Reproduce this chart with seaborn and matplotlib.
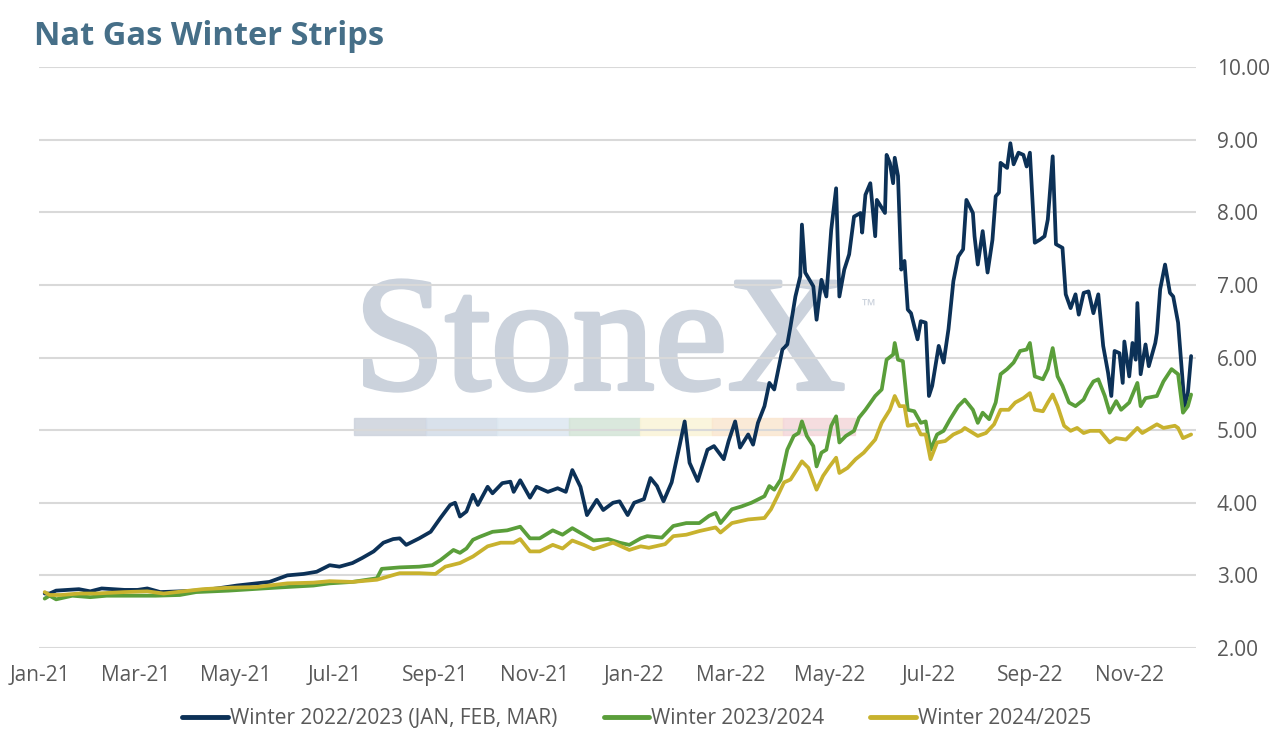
import pandas as pd
import matplotlib
matplotlib.use("Agg")
import matplotlib.pyplot as plt
import matplotlib.dates as mdates
import matplotlib.patheffects as pe
from matplotlib.lines import Line2D
from matplotlib.patches import Rectangle
import seaborn as sns

# -------------------------------
# Data
# -------------------------------
w23_dates = [
    "2021-01-04", "2021-01-07", "2021-01-11", "2021-01-25", "2021-02-01", "2021-02-08", "2021-02-22",
    "2021-03-02", "2021-03-08", "2021-03-16", "2021-03-28", "2021-04-07", "2021-04-20", "2021-05-02",
    "2021-05-14", "2021-05-22", "2021-06-02", "2021-06-12", "2021-06-20", "2021-06-28", "2021-07-04",
    "2021-07-12", "2021-07-18", "2021-07-25", "2021-07-31", "2021-08-06", "2021-08-10", "2021-08-14",
    "2021-08-22", "2021-08-29", "2021-09-04", "2021-09-10", "2021-09-13", "2021-09-16", "2021-09-20",
    "2021-09-24", "2021-09-27", "2021-10-03", "2021-10-06", "2021-10-12", "2021-10-17", "2021-10-19",
    "2021-10-23", "2021-10-29", "2021-11-02", "2021-11-09", "2021-11-15", "2021-11-20", "2021-11-24",
    "2021-11-29", "2021-12-03", "2021-12-09", "2021-12-13", "2021-12-19", "2021-12-23", "2021-12-28",
    "2022-01-01", "2022-01-07", "2022-01-11", "2022-01-15", "2022-01-19", "2022-01-24", "2022-01-29",
    "2022-02-01", "2022-02-04", "2022-02-09", "2022-02-15", "2022-02-19", "2022-02-25", "2022-02-28",
    "2022-03-04", "2022-03-07", "2022-03-12", "2022-03-15", "2022-03-18", "2022-03-22", "2022-03-25",
    "2022-03-28", "2022-04-02", "2022-04-05", "2022-04-07", "2022-04-10", "2022-04-13", "2022-04-14",
    "2022-04-16", "2022-04-21", "2022-04-23", "2022-04-26", "2022-04-29", "2022-05-02", "2022-05-05",
    "2022-05-07", "2022-05-10", "2022-05-13", "2022-05-16", "2022-05-20", "2022-05-21", "2022-05-23",
    "2022-05-26", "2022-05-29", "2022-05-30", "2022-06-04", "2022-06-05", "2022-06-07", "2022-06-09",
    "2022-06-10", "2022-06-12", "2022-06-14", "2022-06-16", "2022-06-18", "2022-06-20", "2022-06-24",
    "2022-06-26", "2022-06-29", "2022-07-01", "2022-07-03", "2022-07-07", "2022-07-10", "2022-07-13",
    "2022-07-16", "2022-07-19", "2022-07-22", "2022-07-24", "2022-07-28", "2022-07-29", "2022-07-31",
    "2022-08-03", "2022-08-06", "2022-08-09", "2022-08-11", "2022-08-13", "2022-08-14", "2022-08-18",
    "2022-08-20", "2022-08-22", "2022-08-25", "2022-08-28", "2022-08-30", "2022-09-01", "2022-09-04",
    "2022-09-07", "2022-09-10", "2022-09-12", "2022-09-15", "2022-09-17", "2022-09-21", "2022-09-23",
    "2022-09-26", "2022-09-29", "2022-10-01", "2022-10-04", "2022-10-07", "2022-10-10", "2022-10-13",
    "2022-10-16", "2022-10-19", "2022-10-21", "2022-10-23", "2022-10-26", "2022-10-28", "2022-10-29",
    "2022-11-01", "2022-11-03", "2022-11-05", "2022-11-06", "2022-11-08", "2022-11-11", "2022-11-13",
    "2022-11-17", "2022-11-18", "2022-11-20", "2022-11-23", "2022-11-26", "2022-11-28", "2022-12-01",
    "2022-12-05", "2022-12-07", "2022-12-09",
]
w23_vals = [
    2.75, 2.75, 2.79, 2.81, 2.78, 2.82, 2.80,
    2.80, 2.82, 2.77, 2.78, 2.79, 2.82, 2.86,
    2.89, 2.91, 3.00, 3.02, 3.05, 3.14, 3.12,
    3.17, 3.24, 3.33, 3.45, 3.50, 3.51, 3.42,
    3.51, 3.60, 3.79, 3.97, 4.00, 3.81, 3.88,
    4.11, 3.97, 4.22, 4.13, 4.27, 4.29, 4.15,
    4.31, 4.07, 4.22, 4.15, 4.20, 4.15, 4.45,
    4.22, 3.83, 4.04, 3.90, 4.00, 4.02, 3.83,
    4.00, 4.05, 4.34, 4.23, 4.02, 4.28, 4.80,
    5.12, 4.55, 4.30, 4.73, 4.78, 4.60, 4.85,
    5.12, 4.76, 4.94, 4.80, 5.10, 5.33, 5.65,
    5.56, 6.11, 6.18, 6.43, 6.84, 7.12, 7.83,
    7.17, 6.98, 6.52, 7.07, 6.84, 7.76, 8.33,
    6.84, 7.21, 7.42, 7.94, 7.99, 7.72, 8.24,
    8.40, 7.67, 8.17, 7.99, 8.79, 8.68, 8.40,
    8.75, 8.50, 7.21, 7.33, 6.66, 6.61, 6.25,
    6.50, 6.48, 5.47, 5.61, 6.16, 5.93, 6.39,
    7.05, 7.39, 7.49, 8.17, 7.99, 7.67, 7.28,
    7.74, 7.17, 7.62, 8.22, 8.27, 8.68, 8.61,
    8.95, 8.66, 8.82, 8.79, 8.63, 8.82, 7.58,
    7.62, 7.67, 7.90, 8.77, 7.56, 7.51, 6.87,
    6.68, 6.87, 6.59, 6.89, 6.91, 6.61, 6.87,
    6.16, 5.79, 5.47, 6.09, 6.06, 5.65, 6.22,
    5.74, 6.20, 5.97, 6.75, 5.77, 6.18, 5.88,
    6.20, 6.34, 6.94, 7.28, 6.89, 6.84, 6.48,
    5.33, 5.51, 6.02,
]

w24_dates = [
    "2021-01-04", "2021-01-07", "2021-01-11", "2021-01-21", "2021-02-01", "2021-02-11", "2021-02-25",
    "2021-03-13", "2021-03-28", "2021-04-07", "2021-04-27", "2021-05-18", "2021-06-02", "2021-06-18",
    "2021-06-28", "2021-07-12", "2021-07-27", "2021-07-30", "2021-08-10", "2021-08-22", "2021-08-30",
    "2021-09-04", "2021-09-12", "2021-09-16", "2021-09-20", "2021-09-24", "2021-09-28", "2021-10-06",
    "2021-10-15", "2021-10-23", "2021-10-29", "2021-11-04", "2021-11-12", "2021-11-18", "2021-11-24",
    "2021-12-01", "2021-12-07", "2021-12-16", "2021-12-23", "2021-12-29", "2022-01-05", "2022-01-09",
    "2022-01-18", "2022-01-25", "2022-02-02", "2022-02-10", "2022-02-16", "2022-02-20", "2022-02-23",
    "2022-03-02", "2022-03-08", "2022-03-14", "2022-03-22", "2022-03-25", "2022-03-28", "2022-04-01",
    "2022-04-05", "2022-04-09", "2022-04-12", "2022-04-14", "2022-04-17", "2022-04-21", "2022-04-23",
    "2022-04-26", "2022-04-29", "2022-05-02", "2022-05-05", "2022-05-07", "2022-05-11", "2022-05-16",
    "2022-05-19", "2022-05-23", "2022-05-29", "2022-06-02", "2022-06-05", "2022-06-09", "2022-06-10",
    "2022-06-12", "2022-06-15", "2022-06-18", "2022-06-22", "2022-06-26", "2022-06-29", "2022-07-02",
    "2022-07-06", "2022-07-10", "2022-07-14", "2022-07-19", "2022-07-23", "2022-07-28", "2022-07-31",
    "2022-08-03", "2022-08-07", "2022-08-11", "2022-08-14", "2022-08-18", "2022-08-22", "2022-08-26",
    "2022-08-30", "2022-09-01", "2022-09-04", "2022-09-09", "2022-09-12", "2022-09-15", "2022-09-18",
    "2022-09-21", "2022-09-25", "2022-09-29", "2022-10-04", "2022-10-07", "2022-10-10", "2022-10-13",
    "2022-10-17", "2022-10-20", "2022-10-24", "2022-10-27", "2022-11-01", "2022-11-06", "2022-11-08",
    "2022-11-11", "2022-11-18", "2022-11-22", "2022-11-27", "2022-12-01", "2022-12-04", "2022-12-07",
    "2022-12-09",
]
w24_vals = [
    2.68, 2.72, 2.67, 2.72, 2.70, 2.72, 2.72,
    2.72, 2.73, 2.77, 2.79, 2.82, 2.84, 2.86,
    2.89, 2.91, 2.96, 3.09, 3.11, 3.12, 3.14,
    3.21, 3.35, 3.31, 3.37, 3.49, 3.53, 3.60,
    3.62, 3.67, 3.51, 3.51, 3.62, 3.56, 3.65,
    3.56, 3.48, 3.50, 3.45, 3.42, 3.51, 3.54,
    3.52, 3.68, 3.72, 3.72, 3.82, 3.86, 3.72,
    3.91, 3.95, 4.00, 4.09, 4.23, 4.18, 4.32,
    4.73, 4.92, 4.96, 5.12, 4.92, 4.78, 4.50,
    4.69, 4.73, 5.06, 5.19, 4.83, 4.92, 4.99,
    5.17, 5.28, 5.47, 5.56, 5.97, 6.04, 6.20,
    5.97, 5.95, 5.28, 5.26, 5.10, 5.12, 4.73,
    4.94, 4.99, 5.15, 5.33, 5.42, 5.28, 5.10,
    5.24, 5.15, 5.38, 5.77, 5.84, 5.93, 6.09,
    6.11, 6.20, 5.74, 5.70, 5.84, 6.13, 5.74,
    5.61, 5.38, 5.33, 5.42, 5.56, 5.67, 5.70,
    5.47, 5.24, 5.40, 5.28, 5.38, 5.65, 5.33,
    5.44, 5.47, 5.67, 5.84, 5.77, 5.24, 5.33,
    5.49,
]

w25_dates = [
    "2021-01-04", "2021-01-07", "2021-01-14", "2021-01-25", "2021-02-04", "2021-02-22", "2021-03-08",
    "2021-03-18", "2021-03-30", "2021-04-11", "2021-04-27", "2021-05-14", "2021-06-02", "2021-06-18",
    "2021-06-28", "2021-07-12", "2021-07-27", "2021-08-10", "2021-08-22", "2021-09-01", "2021-09-07",
    "2021-09-16", "2021-09-24", "2021-10-03", "2021-10-11", "2021-10-19", "2021-10-23", "2021-10-29",
    "2021-11-04", "2021-11-12", "2021-11-18", "2021-11-24", "2021-12-01", "2021-12-07", "2021-12-19",
    "2021-12-29", "2022-01-05", "2022-01-10", "2022-01-20", "2022-01-25", "2022-02-02", "2022-02-10",
    "2022-02-20", "2022-02-23", "2022-03-02", "2022-03-12", "2022-03-22", "2022-03-26", "2022-03-30",
    "2022-04-03", "2022-04-07", "2022-04-11", "2022-04-14", "2022-04-18", "2022-04-23", "2022-04-27",
    "2022-05-01", "2022-05-05", "2022-05-07", "2022-05-12", "2022-05-17", "2022-05-22", "2022-05-29",
    "2022-06-02", "2022-06-07", "2022-06-10", "2022-06-13", "2022-06-16", "2022-06-18", "2022-06-23",
    "2022-06-26", "2022-06-29", "2022-07-02", "2022-07-06", "2022-07-11", "2022-07-16", "2022-07-21",
    "2022-07-23", "2022-07-31", "2022-08-05", "2022-08-10", "2022-08-14", "2022-08-19", "2022-08-23",
    "2022-08-28", "2022-09-01", "2022-09-04", "2022-09-09", "2022-09-12", "2022-09-15", "2022-09-18",
    "2022-09-22", "2022-09-26", "2022-09-30", "2022-10-04", "2022-10-08", "2022-10-14", "2022-10-20",
    "2022-10-24", "2022-10-30", "2022-11-06", "2022-11-09", "2022-11-18", "2022-11-22", "2022-11-29",
    "2022-12-01", "2022-12-04", "2022-12-09",
]
w25_vals = [
    2.77, 2.73, 2.73, 2.75, 2.75, 2.77, 2.78,
    2.75, 2.78, 2.81, 2.83, 2.84, 2.89, 2.90,
    2.92, 2.91, 2.94, 3.03, 3.03, 3.02, 3.12,
    3.17, 3.26, 3.40, 3.45, 3.45, 3.50, 3.33,
    3.33, 3.42, 3.37, 3.48, 3.42, 3.36, 3.45,
    3.35, 3.40, 3.38, 3.43, 3.54, 3.56, 3.61,
    3.66, 3.59, 3.72, 3.77, 3.79, 3.91, 4.09,
    4.28, 4.32, 4.46, 4.57, 4.48, 4.18, 4.37,
    4.50, 4.62, 4.41, 4.48, 4.60, 4.69, 4.87,
    5.10, 5.28, 5.47, 5.33, 5.33, 5.06, 5.08,
    4.94, 4.94, 4.60, 4.83, 4.85, 4.94, 4.99,
    5.03, 4.92, 4.96, 5.08, 5.28, 5.28, 5.38,
    5.44, 5.51, 5.28, 5.26, 5.38, 5.49, 5.33,
    5.06, 4.99, 5.03, 4.96, 4.99, 4.99, 4.83,
    4.89, 4.87, 5.03, 4.96, 5.08, 5.03, 5.06,
    5.03, 4.89, 4.94,
]

series_names = ["Winter 2022/2023 (JAN, FEB, MAR)", "Winter 2023/2024", "Winter 2024/2025"]
series_colors = ["#0C3157", "#5A9E3A", "#C8B22E"]
y_ticks = [2, 3, 4, 5, 6, 7, 8, 9, 10]

# -------------------------------
# Long-form table for seaborn
# -------------------------------
frames = []
for name, d, v in zip(series_names, [w23_dates, w24_dates, w25_dates], [w23_vals, w24_vals, w25_vals]):
    frames.append(pd.DataFrame({"date": pd.to_datetime(d), "price": v, "series": name}))
df = pd.concat(frames, ignore_index=True)

# -------------------------------
# Plot
# -------------------------------
sns.set_theme(style="white")
plt.rcParams["font.family"] = ["Open Sans", "DejaVu Sans"]

fig = plt.figure(figsize=(12.74, 7.39), dpi=100)
ax = fig.add_axes([39 / 1274, 1 - 648 / 739, (1196 - 39) / 1274, (648 - 67) / 739])

# watermark, kept behind grid and lines
wm = "#CBD2DC"
ax.text(354 / 1274, 1 - 389 / 739, "StoneX", family="Liberation Serif", fontsize=118,
        color=wm, ha="left", va="baseline", transform=fig.transFigure, zorder=0.1,
        path_effects=[pe.withStroke(linewidth=3, foreground=wm)])
ax.text(862 / 1274, 1 - 312 / 739, "\u2122", fontsize=13, color=wm, ha="left",
        va="baseline", transform=fig.transFigure, zorder=0.1)
bar_cols = ["#CDD3DC", "#D3DCE8", "#DCE7F0", "#D4E4D7", "#FAF4D8", "#FAE7D0", "#F4D7DA"]
for i, c in enumerate(bar_cols):
    ax.add_patch(Rectangle(((354 + i * 71.5) / 1274, 1 - 435 / 739), 71.5 / 1274, 17 / 739,
                           transform=fig.transFigure, color=c, alpha=0.85, zorder=0.1,
                           clip_on=False))

sns.lineplot(data=df, x="date", y="price", hue="series", palette=series_colors,
             estimator=None, linewidth=2.7, legend=False, ax=ax, zorder=3)

ax.set_ylim(2, 10)
ax.set_xlim(pd.Timestamp("2020-12-31 12:00"), pd.Timestamp("2022-12-12"))
ax.set_yticks(y_ticks)
ax.yaxis.tick_right()
ax.yaxis.set_major_formatter(plt.FuncFormatter(lambda v, p: f"{v:.2f}"))
ax.xaxis.set_major_locator(mdates.MonthLocator(bymonth=[1, 3, 5, 7, 9, 11]))
ax.xaxis.set_major_formatter(mdates.DateFormatter("%b-%y"))
ax.tick_params(axis="y", length=0, pad=15, labelsize=15, labelcolor="#595959")
ax.tick_params(axis="x", length=0, pad=12, labelsize=15, labelcolor="#595959")
ax.grid(axis="y", color="#D9D9D9", linewidth=1.5, zorder=0.5)
ax.grid(axis="x", visible=False)
ax.set_axisbelow(True)
for s in ax.spines.values():
    s.set_visible(False)
ax.set_xlabel("")
ax.set_ylabel("")

fig.text(34 / 1274, 1 - 45 / 739, "Nat Gas Winter Strips", fontsize=23.5, fontweight="bold",
         color="#466F88", ha="left", va="baseline")

handles = [Line2D([0], [0], color=c, linewidth=3.5) for c in series_colors]
fig.legend(handles, series_names, loc="center", bbox_to_anchor=(0.5, 1 - 719 / 739), ncol=3,
           frameon=False, fontsize=15, labelcolor="#595959", handlelength=2.2, handletextpad=0.1,
           columnspacing=2.2)

fig.savefig("out.png", dpi=100)
